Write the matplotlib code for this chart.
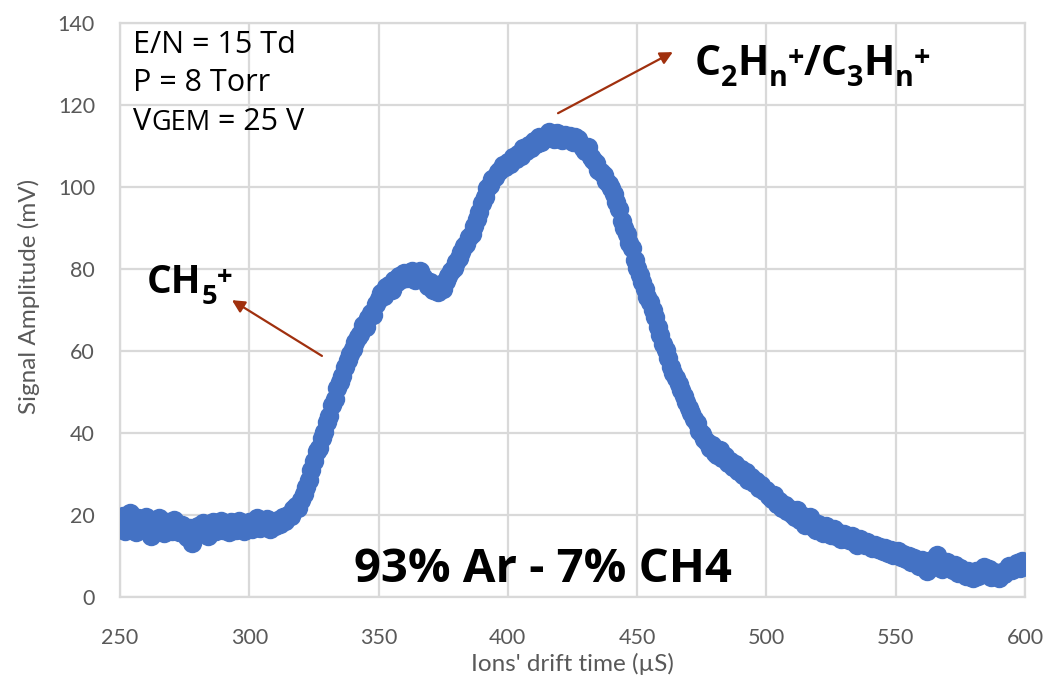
import numpy as np
import matplotlib
matplotlib.use("Agg")
import matplotlib.pyplot as plt

# ── data (1 µs steps, 250 … 600 µs) ──
drift_start = 250
drift_stop = 600
signal_mv = [
    17.5, 19.8, 16.2, 18.6, 20.4, 17.1, 15.8, 19.2, 18.0, 16.5,   # 250
    19.6, 17.4, 14.8, 18.2, 16.9, 19.3, 17.0, 15.6, 18.4, 17.8,   # 260
    16.2, 18.9, 17.3, 15.9, 17.6, 16.4, 14.6, 16.8, 13.2, 15.4,   # 270
    17.2, 15.8, 18.1, 16.6, 14.9, 17.4, 18.3, 16.1, 17.0, 18.6,   # 280
    16.4, 17.7, 15.9, 18.2, 17.1, 16.3, 18.5, 17.6, 16.0, 17.9,   # 290
    18.4, 16.7, 17.5, 19.2, 16.8, 18.1, 17.3, 19.0, 16.6, 18.3,   # 300
    17.4, 18.8, 17.9, 19.6, 18.5, 20.1, 19.7, 21.4, 22.3, 21.8,   # 310
    23.6, 25.2, 26.8, 28.5, 30.9, 33.2, 35.6, 36.4, 38.9, 40.2,   # 320
    42.6, 44.1, 46.8, 48.3, 50.9, 52.4, 53.8, 56.2, 57.9, 59.3,   # 330
    60.4, 62.1, 63.5, 64.2, 66.4, 65.8, 68.1, 69.3, 68.7, 71.5,   # 340
    72.8, 74.1, 73.5, 75.6, 76.2, 74.9, 77.3, 76.8, 78.4, 77.6,   # 350
    79.1, 77.9, 78.6, 79.4, 77.2, 78.8, 79.6, 78.1, 77.0, 75.8,   # 360
    76.9, 74.8, 75.6, 74.4, 76.3, 75.2, 77.1, 78.4, 79.6, 80.3,   # 370
    81.8, 82.6, 84.2, 85.5, 86.1, 87.9, 88.6, 90.4, 92.2, 93.8,   # 380
    96.1, 97.5, 99.8, 100.6, 101.9, 102.4, 103.7, 104.2, 105.3, 104.8,  # 390
    106.2, 105.7, 107.4, 106.9, 108.1, 107.6, 109.4, 108.8, 110.2, 109.6,  # 400
    111.3, 110.4, 112.1, 111.0, 111.8, 112.6, 113.4, 112.2, 111.6, 113.1,  # 410
    112.0, 111.4, 112.8, 111.7, 112.5, 110.9, 112.3, 111.8, 110.6, 109.4,  # 420
    108.9, 109.8, 107.4, 106.6, 105.8, 104.2, 103.6, 102.9, 101.4, 100.8,  # 430
    99.7, 98.2, 96.3, 94.6, 91.8, 89.9, 88.6, 86.4, 85.1, 82.3,   # 440
    80.2, 78.6, 76.8, 75.1, 73.2, 71.9, 70.1, 68.2, 65.8, 63.9,   # 450
    61.6, 60.2, 58.3, 56.1, 54.7, 53.4, 51.9, 50.6, 49.1, 47.5,   # 460
    46.2, 44.9, 43.3, 42.5, 40.4, 39.8, 38.6, 37.9, 36.3, 37.1,   # 470
    35.2, 34.6, 35.8, 33.9, 34.4, 32.6, 33.1, 31.8, 32.4, 30.7,   # 480
    31.2, 29.8, 30.4, 28.6, 29.2, 27.9, 28.3, 26.7, 27.4, 25.8,   # 490
    26.2, 24.6, 23.9, 24.8, 22.7, 23.4, 21.6, 22.5, 20.9, 21.4,   # 500
    20.3, 19.6, 21.2, 18.9, 19.8, 17.6, 18.4, 19.5, 17.1, 16.3,   # 510
    17.8, 16.4, 15.7, 17.2, 16.1, 15.2, 16.6, 14.8, 15.5, 14.1,   # 520
    15.3, 14.2, 13.9, 14.9, 13.4, 12.8, 14.1, 13.2, 12.6, 13.5,   # 530
    12.4, 11.9, 12.8, 11.6, 12.3, 11.1, 12.0, 10.7, 11.4, 10.2,   # 540
    10.9, 11.3, 9.8, 10.5, 9.2, 10.1, 8.6, 9.5, 8.9, 7.6,         # 550
    9.1, 8.2, 6.4, 8.8, 7.3, 9.4, 10.3, 8.1, 6.9, 7.8,            # 560
    8.5, 7.2, 6.6, 7.9, 5.8, 7.0, 6.1, 5.2, 6.4, 4.8,             # 570
    4.6, 6.3, 5.1, 5.9, 7.4, 5.5, 6.8, 4.9, 6.0, 5.3,             # 580
    4.7, 6.2, 5.6, 6.9, 7.5, 6.6, 7.9, 8.4, 7.1, 8.8,             # 590
    7.6,                                                          # 600
]
drift_us = np.arange(drift_start, drift_stop + 1, 1)

x_ticks = [250, 300, 350, 400, 450, 500, 550, 600]
y_ticks = [0, 20, 40, 60, 80, 100, 120, 140]

blue = "#4472C4"
grid_col = "#D9D9D9"
tick_col = "#595959"
arrow_col = "#A0300E"

fig = plt.figure(figsize=(10.51, 6.75), dpi=100, facecolor="white")
ax = fig.add_axes([120 / 1051, 1 - 597 / 675, 905 / 1051, 574 / 675])

ax.plot(drift_us, signal_mv, linestyle="None", marker="o",
        markersize=14, color=blue, markeredgewidth=0, zorder=3)

ax.set_xlim(250, 600)
ax.set_ylim(0, 140)
ax.set_xticks(x_ticks)
ax.set_yticks(y_ticks)
ax.grid(True, color=grid_col, linewidth=1.6, zorder=0)
for sp in ax.spines.values():
    sp.set_color(grid_col)
    sp.set_linewidth(1.6)
ax.tick_params(length=0, labelsize=15.5, labelcolor=tick_col)
ax.tick_params(axis="x", pad=22)
ax.tick_params(axis="y", pad=18)
for lab in ax.get_xticklabels() + ax.get_yticklabels():
    lab.set_family("Lato")

fig.text(572 / 1051, 1 - 671 / 675, "Ions' drift time (µS)", ha="center",
         va="baseline", fontsize=17.5, color=tick_col, family="Lato")
fig.text(28.5 / 1051, 1 - 296 / 675, "Signal Amplitude (mV)", ha="center",
         va="center", rotation=90, fontsize=17.5, color=tick_col, family="Lato")

# ── condition box text ──
txt_kw = dict(fontsize=22, color="black", family="Open Sans")
ax.text(255.0, 132.7, "E/N = 15 Td", va="baseline", **txt_kw)
ax.text(255.0, 123.4, "P = 8 Torr", va="baseline", **txt_kw)
tv = ax.text(255.0, 113.9, "V", va="baseline", **txt_kw)
tg = ax.annotate("GEM", xy=(1, 0), xycoords=tv, va="bottom", ha="left",
                 fontsize=19.5, color="black", family="Open Sans")
ax.annotate(" = 25 V", xy=(1, 0), xycoords=tg, va="bottom", ha="left", **txt_kw)


# ── chemical labels built from pieces (text, scale, vertical shift) ──
SUB = -0.2
SUP = 0.3


def chem_label(x, y, pieces, size):
    kw = dict(color="black", family="Open Sans", fontweight="bold")
    first = ax.text(x, y, pieces[0][0], va="baseline",
                    fontsize=size * pieces[0][1], **kw)
    prev = first
    for s, scale, dy in pieces[1:]:
        prev = ax.annotate(s, xy=(1, 0), xycoords=(prev, first),
                           xytext=(0, dy * size), textcoords="offset points",
                           va="bottom", ha="left", fontsize=size * scale, **kw)


chem_label(260.4, 74.1, [("CH", 1, 0), ("5", 0.7, SUB), ("+", 0.7, SUP)], 28)
chem_label(472.3, 127.3,
           [("C", 1, 0), ("2", 0.7, SUB), ("H", 1, 0), ("n", 0.7, SUB),
            ("+", 0.7, SUP), ("/", 1, 0), ("C", 1, 0), ("3", 0.7, SUB),
            ("H", 1, 0), ("n", 0.7, SUB), ("+", 0.7, SUP)], 29.5)

arrow_kw = dict(arrowstyle="-|>,head_length=0.75,head_width=0.38",
                color=arrow_col, lw=1.6, shrinkA=0, shrinkB=0)
ax.annotate("", xy=(293.3, 72.4), xytext=(328.1, 58.8), arrowprops=arrow_kw)
ax.annotate("", xy=(463.8, 132.9), xytext=(419.4, 118.0), arrowprops=arrow_kw)

ax.text(413.6, 3.66, "93% Ar - 7% CH4", ha="center", va="baseline",
        fontsize=34, fontweight="bold", color="black", family="Open Sans")

fig.savefig("out.png", dpi=100, facecolor="white")
